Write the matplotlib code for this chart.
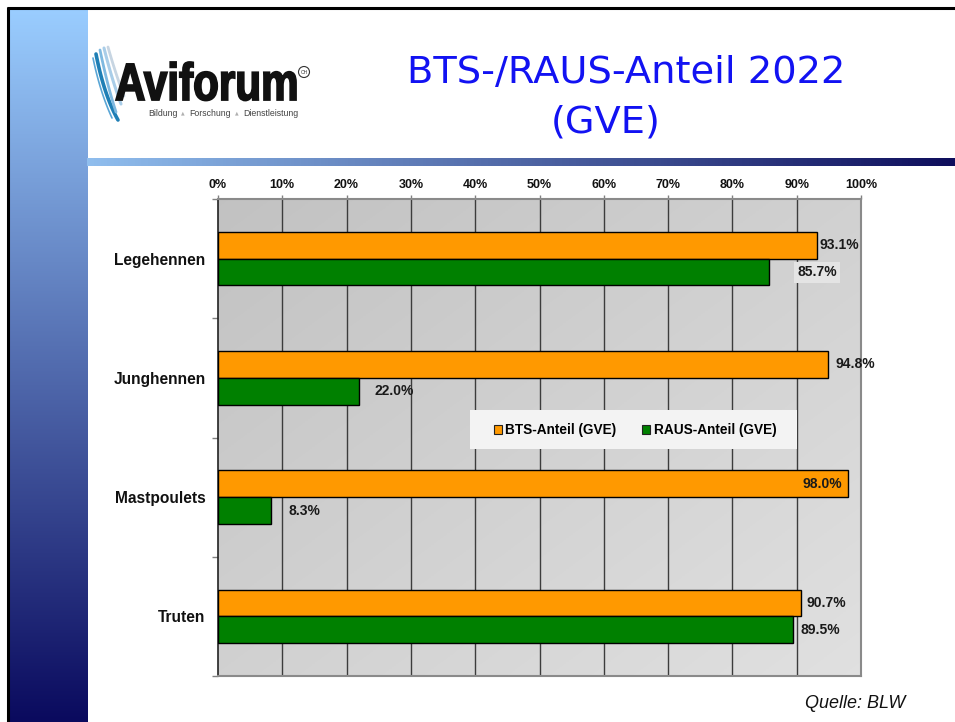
import numpy as np
import matplotlib
matplotlib.use("Agg")
import matplotlib.pyplot as plt
from matplotlib.patches import Rectangle, PathPatch, Patch
from matplotlib.textpath import TextPath
from matplotlib.font_manager import FontProperties
from matplotlib.transforms import Affine2D
from matplotlib.colors import to_rgb

# ---- data -------------------------------------------------------------
categories = ["Legehennen", "Junghennen", "Mastpoulets", "Truten"]
bts_share = [93.1, 94.8, 98.0, 90.7]      # BTS-Anteil (GVE), %
raus_share = [85.7, 22.0, 8.3, 89.5]      # RAUS-Anteil (GVE), %
tick_values = list(range(0, 101, 10))
tick_labels = [f"{v}%" for v in tick_values]
series_names = ["BTS-Anteil (GVE)", "RAUS-Anteil (GVE)"]
title_lines = ["BTS-/RAUS-Anteil 2022", "(GVE)"]
source_note = "Quelle: BLW"

# label offsets (in % units) and alignment for each value label
bts_offsets = [0.5, 1.3, -0.9, 0.8]
bts_align = ["left", "left", "right", "left"]
raus_offsets = [4.4, 2.4, 2.7, 1.1]

ORANGE = "#FF9900"
GREEN = "#008000"
FONT = "Liberation Sans"

W, H = 955, 722
fig = plt.figure(figsize=(W / 100, H / 100), dpi=100)
fig.patch.set_facecolor("white")

# full-figure canvas in pixel coordinates (y downward)
bg = fig.add_axes([0, 0, 1, 1], zorder=0)
bg.set_xlim(0, W)
bg.set_ylim(H, 0)
bg.axis("off")


def gradient_img(c0, c1, n=256, vertical=True):
    c0, c1 = np.array(to_rgb(c0)), np.array(to_rgb(c1))
    t = np.linspace(0, 1, n)
    cols = c0[None, :] * (1 - t[:, None]) + c1[None, :] * t[:, None]
    if vertical:
        return cols[:, None, :]
    return cols[None, :, :]


# left vertical band
bg.imshow(gradient_img("#9ACDFF", "#0A0A5E"), extent=(9, 87, H, 9),
          aspect="auto", origin="upper", zorder=1)
# horizontal rule under the title
bg.imshow(gradient_img("#90BEEE", "#0E0E5C", vertical=False),
          extent=(87, W, 166, 158), aspect="auto", origin="upper", zorder=1)
# slide frame
bg.plot([7, W], [7.5, 7.5], color="black", lw=2.2, zorder=2, solid_capstyle="butt")
bg.plot([7.5, 7.5], [7, H], color="black", lw=2.2, zorder=2, solid_capstyle="butt")

# ---- logo ---------------------------------------------------------------
t = np.linspace(0, 1, 50)
swooshes = [
    ((96, 54), (104, 95), (118, 120), "#1f7fb5", 2.6),
    ((100, 50), (108, 88), (116, 112), "#7fb9e0", 2.0),
    ((104, 48), (112, 80), (121, 104), "#a9cde8", 2.2),
    ((108, 47), (115, 72), (124, 96), "#c7d5e2", 2.0),
    ((93, 58), (100, 92), (112, 118), "#5aa6d6", 1.2),
]
for p0, p1, p2, col, lw in swooshes:
    xs = (1 - t) ** 2 * p0[0] + 2 * (1 - t) * t * p1[0] + t ** 2 * p2[0]
    ys = (1 - t) ** 2 * p0[1] + 2 * (1 - t) * t * p1[1] + t ** 2 * p2[1]
    bg.plot(xs, ys, color=col, lw=lw, zorder=3, solid_capstyle="round")

fp_logo = FontProperties(family=FONT, weight="bold")
logo_path = TextPath((0, 0), "Aviforum", prop=fp_logo, size=1)
ext = logo_path.get_extents()
sx = (296 - 116) / ext.width
sy = (100 - 62) / ext.y1
logo_tf = Affine2D().translate(-ext.x0, 0).scale(sx, -sy).translate(116, 100)
bg.add_patch(PathPatch(logo_path, transform=logo_tf + bg.transData,
                       facecolor="#111111", edgecolor="#111111", lw=1.3,
                       zorder=4))
bg.add_patch(plt.Circle((304, 72), 5.5, fill=False, ec="#333333", lw=0.8, zorder=4))
bg.text(304, 72.3, "CH", fontsize=3.6, ha="center", va="center",
        color="#333333", family=FONT, zorder=4)
sub_kw = dict(fontsize=6.3, color="#444444", family=FONT, va="center",
              ha="left", zorder=4)
tri_kw = dict(fontsize=3.4, color="#b0b0b0", va="center", ha="left", zorder=4)
bg.text(148, 113, "Bildung", **sub_kw)
bg.text(181, 113, "\u25b2", **tri_kw)
bg.text(189, 113, "Forschung", **sub_kw)
bg.text(235, 113, "\u25b2", **tri_kw)
bg.text(243, 113, "Dienstleistung", **sub_kw)

# ---- title --------------------------------------------------------------
bg.text(626, 73, title_lines[0], fontsize=27.6, color="#1212F2",
        family="DejaVu Sans", ha="center", va="center", zorder=4)
bg.text(606, 123, title_lines[1], fontsize=27.6, color="#1212F2",
        family="DejaVu Sans", ha="center", va="center", zorder=4)

# source note
bg.text(905, 703, source_note, fontsize=13, style="italic", color="#111111",
        family=FONT, ha="right", va="center", zorder=4)

# ---- chart --------------------------------------------------------------
x0, x1, y0, y1 = 218, 861, 199, 676
ax = fig.add_axes([x0 / W, (H - y1) / H, (x1 - x0) / W, (y1 - y0) / H], zorder=2)

# diagonal grey gradient for the plot area
n = 200
gx, gy = np.meshgrid(np.linspace(0, 1, n), np.linspace(0, 1, n))
tt = (gx + gy) / 2
lum = 0.76 + (0.88 - 0.76) * tt
ax.imshow(np.dstack([lum, lum, lum]), extent=(0, 1, 0, 1), transform=ax.transAxes,
          aspect="auto", origin="upper", zorder=0)

ypos = np.arange(len(categories))
h = 0.225
ax.barh(ypos - h / 2, bts_share, height=h, color=ORANGE, edgecolor="black",
        lw=1.0, zorder=3, label=series_names[0])
ax.barh(ypos + h / 2, raus_share, height=h, color=GREEN, edgecolor="black",
        lw=1.0, zorder=3, label=series_names[1])

for xv in tick_values[1:-1]:
    ax.axvline(xv, color="#3c3c3c", lw=1.0, zorder=1)

ax.set_xlim(0, 100)
ax.set_ylim(len(categories) - 0.5, -0.5)

lab_kw = dict(fontsize=10, fontweight="bold", color="#1a1a1a", family=FONT,
              va="center", zorder=5)
for i, v in enumerate(bts_share):
    ax.text(v + bts_offsets[i], ypos[i] - h / 2, f"{v:.1f}%",
            ha=bts_align[i], **lab_kw)
for i, v in enumerate(raus_share):
    kw = dict(lab_kw)
    if i == 0:
        kw["bbox"] = dict(boxstyle="square,pad=0.25", fc="#e4e4e4", ec="none")
    ax.text(v + raus_offsets[i], ypos[i] + h / 2, f"{v:.1f}%", ha="left", **kw)

ax.xaxis.tick_top()
ax.set_xticks(tick_values)
ax.set_xticklabels(tick_labels, fontsize=9, fontweight="bold", family=FONT,
                   color="#111111")
ax.tick_params(axis="x", length=3, width=1, color="#808080", pad=3)

ax.set_yticks(ypos)
ax.set_yticklabels(categories, fontsize=11.2, fontweight="bold", family=FONT,
                   color="#111111")
ax.tick_params(axis="y", length=0, pad=9)
ax.set_yticks(np.arange(-0.5, len(categories), 1.0), minor=True)
ax.tick_params(axis="y", which="minor", length=4, width=1, color="#808080")

for side in ["top", "right", "bottom"]:
    ax.spines[side].set_color("#8a8a8a")
    ax.spines[side].set_linewidth(1.5)
ax.spines["left"].set_color("#222222")
ax.spines["left"].set_linewidth(1.2)

# legend box
leg_bg = Rectangle((470, 410), 327, 39, transform=bg.transData,
                   facecolor="#f3f3f3", edgecolor="none", zorder=6)
fig.patches.append(leg_bg)
leg_bg.set_figure(fig)
handles = [Patch(facecolor=ORANGE, edgecolor="#222222", lw=0.8),
           Patch(facecolor=GREEN, edgecolor="#222222", lw=0.8)]
leg = fig.legend(handles, series_names, loc="center",
                 bbox_to_anchor=(635 / W, 1 - 430 / H), ncol=2, frameon=False,
                 prop=FontProperties(family=FONT, weight="bold", size=9.8),
                 handlelength=0.6, handleheight=0.6, handletextpad=0.25,
                 columnspacing=1.9)
leg.set_zorder(7)

fig.savefig("out.png", dpi=100)
